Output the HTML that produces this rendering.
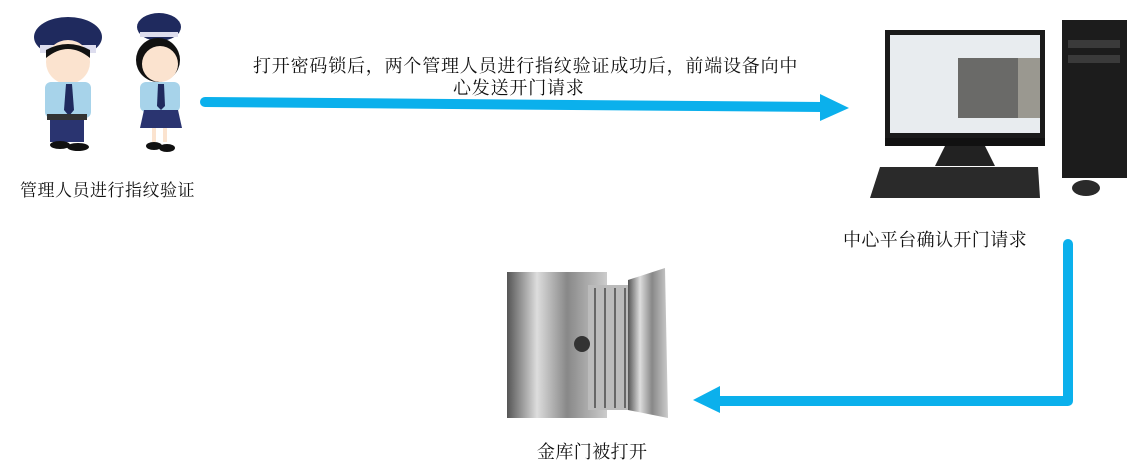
<!DOCTYPE html>
<html><head><meta charset="utf-8"><style>
body{margin:0;width:1147px;height:471px;background:#fff;position:relative;overflow:hidden;font-family:"Liberation Serif","Noto Serif CJK SC","WenQuanYi Zen Hei",serif;color:#111}
.t{position:absolute;font-size:17px;white-space:nowrap;line-height:21px}
svg{position:absolute;left:0;top:0}
</style></head><body>
<svg width="1147" height="471">
<g>
<ellipse cx="68" cy="37" rx="34" ry="20" fill="#1f2a5e"/>
<rect x="40" y="45" width="56" height="8" fill="#dde" />
<circle cx="68" cy="62" r="22" fill="#fbe3cf"/>
<path d="M46 58 Q68 40 90 58 L90 50 Q68 38 46 50Z" fill="#111"/>
<rect x="45" y="82" width="46" height="36" rx="6" fill="#a7d3ea"/>
<path d="M66 84 L72 84 L74 110 L69 116 L64 110Z" fill="#1f2a5e"/>
<rect x="47" y="114" width="40" height="6" fill="#333"/>
<rect x="50" y="120" width="34" height="22" fill="#2a3470"/>
<ellipse cx="60" cy="145" rx="10" ry="4" fill="#111"/><ellipse cx="78" cy="147" rx="11" ry="4" fill="#111"/>
<circle cx="40" cy="75" r="7" fill="#fff"/>
</g>
<g>
<ellipse cx="159" cy="27" rx="22" ry="14" fill="#1f2a5e"/>
<rect x="140" y="32" width="38" height="5" fill="#dde"/>
<circle cx="158" cy="60" r="22" fill="#111"/>
<circle cx="160" cy="64" r="18" fill="#fbe3cf"/>
<rect x="140" y="82" width="40" height="30" rx="6" fill="#a7d3ea"/>
<path d="M158 84 L164 84 L165 106 L161 110 L157 106Z" fill="#1f2a5e"/>
<path d="M144 110 L178 110 L182 128 L140 128Z" fill="#2a3470"/>
<rect x="152" y="128" width="4" height="14" fill="#fbe3cf"/><rect x="163" y="128" width="4" height="14" fill="#fbe3cf"/>
<ellipse cx="154" cy="146" rx="8" ry="4" fill="#111"/><ellipse cx="167" cy="148" rx="8" ry="4" fill="#111"/>
<circle cx="133" cy="74" r="6" fill="#fff"/>
</g>
<path d="M205 102 L822 107" stroke="#0bb0ec" stroke-width="10" stroke-linecap="round" fill="none"/>
<path d="M820 94 L849 108 L820 121Z" fill="#0bb0ec"/>
<rect x="885" y="30" width="160" height="108" fill="#1a1a1a"/>
<rect x="890" y="35" width="150" height="98" fill="#e8ecef"/>
<rect x="958" y="58" width="60" height="60" fill="#6a6a68"/>
<rect x="1018" y="58" width="22" height="60" fill="#9a9890"/>
<rect x="885" y="138" width="160" height="8" fill="#111"/>
<path d="M945 146 L985 146 L995 166 L935 166Z" fill="#222"/>
<path d="M880 167 L1038 167 L1040 198 L870 198Z" fill="#2a2a2a"/>
<rect x="1062" y="20" width="65" height="158" fill="#1c1c1c"/>
<rect x="1068" y="40" width="52" height="8" fill="#3a3a3a"/><rect x="1068" y="55" width="52" height="8" fill="#3a3a3a"/>
<ellipse cx="1086" cy="188" rx="14" ry="8" fill="#2a2a2a"/>
<path d="M1068 244 L1068 401 L718 401" stroke="#0bb0ec" stroke-width="10" stroke-linecap="round" stroke-linejoin="round" fill="none"/>
<path d="M720 386 L693 400 L720 413Z" fill="#0bb0ec"/>
<defs><linearGradient id="g" x1="0" x2="1"><stop offset="0" stop-color="#555"/><stop offset=".3" stop-color="#ddd"/><stop offset=".6" stop-color="#888"/><stop offset="1" stop-color="#ccc"/></linearGradient></defs>
<rect x="507" y="272" width="100" height="146" fill="url(#g)"/>
<rect x="588" y="285" width="42" height="125" fill="#bbb"/>
<g stroke="#666" stroke-width="2"><line x1="595" y1="288" x2="595" y2="408"/><line x1="605" y1="288" x2="605" y2="408"/><line x1="615" y1="288" x2="615" y2="408"/><line x1="625" y1="288" x2="625" y2="408"/></g>
<path d="M628 280 L665 268 L668 418 L628 410Z" fill="url(#g)"/>
<circle cx="582" cy="344" r="8" fill="#333"/>
</svg>
<div class="t" style="left:20px;top:180px;letter-spacing:0.5px">管理人员进行指纹验证</div>
<div class="t" style="left:253px;top:56px;font-size:18px;letter-spacing:0.8px">打开密码锁后，两个管理人员进行指纹验证成功后，前端设备向中</div>
<div class="t" style="left:453px;top:78px;font-size:18px;letter-spacing:0.8px">心发送开门请求</div>
<div class="t" style="left:843px;top:230px;font-size:18px;letter-spacing:0.4px">中心平台确认开门请求</div>
<div class="t" style="left:537px;top:442px;font-size:18px;letter-spacing:0.4px">金库门被打开</div>
</body></html>
